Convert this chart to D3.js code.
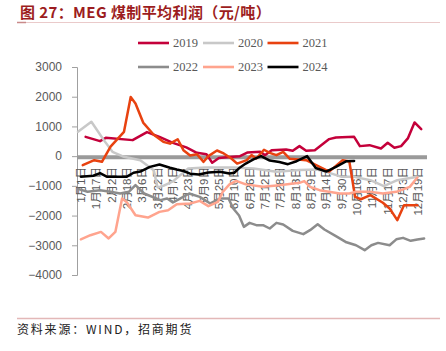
<!DOCTYPE html>
<html><head><meta charset="utf-8">
<script src="https://cdn.jsdelivr.net/npm/d3@7"></script>
<style>body{margin:0;background:#fff}svg{display:block}</style>
</head><body>
<svg id="c" width="446" height="351"></svg>
<script>
// ---- data (x = day of year, 0 = 1月1日) ----
const years = ["2019","2020","2021","2022","2023","2024"];
const colors = ["#C4003A","#C8C8C8","#E84210","#8C8C8C","#FFA48E","#000000"];
const xTickDays = [0,16,32,48,64,80,96,112,128,144,160,176,192,208,224,240,256,272,288,304,320,336,352];
const xTickLabels = ["1月1日","1月17日","2月2日","2月18日","3月6日","3月22日","4月7日","4月23日","5月9日","5月25日","6月10日","6月26日","7月12日","7月28日","8月13日","8月29日","9月14日","9月30日","10月16日","11月1日","11月17日","12月3日","12月19日"];
const yTicks = [3000,2000,1000,0,-1000,-2000,-3000,-4000];

const s2019 = [[5,650],[20,505],[26,616],[54,539],[69,810],[82,650],[96,448],[110,293],[121,111],[131,67],[137,-220],[144,-60],[155,-30],[166,0],[174,124],[187,146],[192,34],[199,200],[214,224],[221,180],[228,337],[235,180],[244,202],[259,573],[266,628],[285,650],[291,337],[301,370],[313,259],[320,448],[327,281],[334,337],[341,596],[348,1134],[355,909]];
const s2020 = [[-3,818],[11,1155],[24,539],[33,146],[45,-22],[62,-135],[76,-471],[80,-1050],[86,-1000],[96,-850],[112,-414],[130,-380],[160,-380],[180,-414],[204,-528],[228,-470],[246,-449],[256,-528],[272,-697],[285,-697],[302,-808],[316,-1010],[330,-808],[351,-697]];
const s2021 = [[2,-303],[14,-135],[22,-191],[31,320],[45,818],[52,1990],[57,1774],[65,1130],[76,720],[86,481],[93,420],[101,570],[107,200],[114,20],[121,67],[128,-191],[133,0],[142,190],[149,90],[157,-78],[163,-250],[173,-135],[178,34],[183,-78],[191,215],[197,112],[204,34],[211,146],[218,-90],[235,-135],[249,-360],[259,-520],[273,-135],[280,-180],[286,-1370],[292,-1450],[302,-1313],[315,-1570],[322,-1760],[330,-2155],[337,-1650],[351,-1650]];
const s2022 = [[-3,-1100],[7,-1200],[20,-1145],[31,-1200],[41,-1257],[50,-1200],[57,-976],[66,-1257],[83,-1481],[90,-1425],[96,-1560],[103,-1440],[113,-1257],[124,-1370],[135,-1593],[145,-1425],[154,-1425],[159,-1762],[165,-2000],[170,-2380],[176,-2245],[183,-2323],[190,-2323],[197,-2435],[204,-2245],[211,-2300],[221,-2515],[232,-2626],[239,-2491],[247,-2290],[254,-2468],[266,-2690],[277,-2900],[287,-3000],[296,-3165],[303,-2997],[310,-2919],[322,-2997],[329,-2800],[336,-2750],[344,-2850],[351,-2805],[358,-2771]];
const s2023 = [[0,-2800],[10,-2660],[21,-2549],[29,-2771],[36,-2549],[43,-1425],[48,-1550],[57,-1987],[70,-2065],[82,-1875],[91,-1818],[100,-1616],[114,-1593],[124,-1505],[133,-1683],[143,-1538],[148,-1200],[155,-950],[162,-830],[172,-950],[190,-1033],[207,-976],[228,-898],[233,-840],[239,-1033],[249,-1145],[270,-1257],[280,-1257],[287,-1200],[301,-1200],[315,-1257],[329,-1200],[343,-1033],[351,-720]];
const s2024 = [[0,-690],[13,-660],[20,-570],[27,-690],[48,-690],[55,-560],[62,-520],[72,-360],[82,-280],[93,-390],[100,-449],[107,-500],[114,-590],[123,-620],[133,-550],[145,-528],[155,-583],[160,-560],[166,-380],[172,-250],[180,-110],[188,0],[197,-150],[207,-200],[216,-270],[225,-170],[236,0],[245,-400],[256,-520],[266,-360],[277,-170],[285,-160]];
const seriesData = [s2019,s2020,s2021,s2022,s2023,s2024];

// ---- chart ----
const svg = d3.select("#c");
const x = d3.scaleLinear().domain([-4,361]).range([77,427]);
const y = d3.scaleLinear().domain([-4000,3000]).range([275,67]);

// title
svg.append("text").attr("x",20).attr("y",17.5)
  .attr("font-family","'Noto Sans CJK SC', sans-serif").attr("font-weight","bold")
  .attr("font-size",15).attr("letter-spacing","0.4px").attr("fill","#9C1C20")
  .text("图 27：MEG 煤制平均利润（元/吨）");
svg.append("line").attr("x1",17).attr("x2",440).attr("y1",22.5).attr("y2",22.5)
  .attr("stroke","#EACACA").attr("stroke-width",1);
svg.append("line").attr("x1",17).attr("x2",26).attr("y1",22.5).attr("y2",22.5)
  .attr("stroke","#C98A8A").attr("stroke-width",1.5);

// legend
const legPos = [[138,43],[203,43],[267.5,43],[138,67],[203,67],[267.5,67]];
years.forEach((yr,i)=>{
  const [lx,ly] = legPos[i];
  svg.append("line").attr("x1",lx).attr("x2",lx+31).attr("y1",ly).attr("y2",ly)
    .attr("stroke",colors[i]).attr("stroke-width",2.6);
  svg.append("text").attr("x",lx+35).attr("y",ly).attr("dy","0.35em")
    .attr("font-family","'Liberation Serif', serif").attr("font-size",12.5)
    .attr("fill","#595959").text(yr);
});

// y axis
const ya = svg.append("g").attr("transform","translate(77,0)")
  .call(d3.axisLeft(y).tickValues(yTicks).tickSize(5).tickPadding(10).tickFormat(d3.format("d")));
ya.selectAll("path,line").attr("stroke","#A0A0A0");
ya.selectAll("text").attr("font-family","'Liberation Sans', Arial, sans-serif")
  .attr("font-size",12).attr("fill","#595959");

// x axis (thick bar at zero)
svg.append("line").attr("x1",77).attr("x2",427).attr("y1",y(0)+1).attr("y2",y(0)+1)
  .attr("stroke","#9A9A9A").attr("stroke-width",4);
svg.append("g").selectAll("text").data(xTickDays).join("text")
  .attr("transform",d=>`translate(${x(d)},167) rotate(-90)`)
  .attr("text-anchor","end").attr("dy","0.35em")
  .attr("font-family","'Liberation Sans', 'Noto Sans CJK SC', sans-serif")
  .attr("font-size",11.5).attr("fill","#595959")
  .text((d,i)=>xTickLabels[i]);

// series
const line = d3.line().x(d=>x(d[0])).y(d=>y(d[1]));
seriesData.forEach((s,i)=>{
  svg.append("path").datum(s).attr("d",line).attr("fill","none")
    .attr("stroke",colors[i]).attr("stroke-width",2.5)
    .attr("stroke-linejoin","round").attr("stroke-linecap","round");
});

// source
svg.append("line").attr("x1",17).attr("x2",440).attr("y1",318.5).attr("y2",318.5)
  .attr("stroke","#E3B8B8").attr("stroke-width",1.5);
svg.append("text").attr("x",17).attr("y",334)
  .attr("font-family","'Noto Sans CJK SC', sans-serif").attr("font-size",12)
  .attr("letter-spacing","1.8px").attr("fill","#222")
  .text("资料来源：WIND，招商期货");
</script>
</body></html>
